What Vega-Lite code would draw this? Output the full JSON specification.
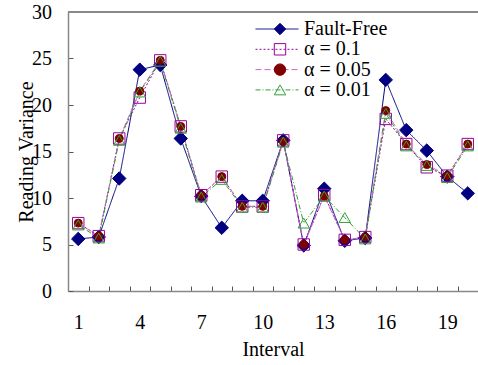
{
  "$schema": "https://vega.github.io/schema/vega-lite/v6.json",
  "width": 410,
  "height": 279,
  "autosize": {"type": "none"},
  "padding": {"left": 68, "top": 12, "right": 0, "bottom": 74},
  "background": "white",
  "config": {
    "view": {"stroke": null},
    "font": "Liberation Serif",
    "axis": {
      "labelFont": "Liberation Serif",
      "labelFontSize": 20,
      "labelColor": "black",
      "titleFont": "Liberation Serif",
      "titleFontSize": 20,
      "titleFontWeight": "normal",
      "titleColor": "black",
      "domainColor": "#888888",
      "domainWidth": 1.5,
      "tickColor": "#555555",
      "tickWidth": 1,
      "tickSize": -5,
      "grid": false
    },
    "legend": {
      "labelFont": "Liberation Serif",
      "labelFontSize": 20,
      "labelColor": "black",
      "padding": 0
    }
  },
  "data": {
    "values": [
      {"interval": 1, "series": "Fault-Free", "value": 5.6},
      {"interval": 2, "series": "Fault-Free", "value": 5.8},
      {"interval": 3, "series": "Fault-Free", "value": 12.1},
      {"interval": 4, "series": "Fault-Free", "value": 23.8},
      {"interval": 5, "series": "Fault-Free", "value": 24.3},
      {"interval": 6, "series": "Fault-Free", "value": 16.4},
      {"interval": 7, "series": "Fault-Free", "value": 10.2},
      {"interval": 8, "series": "Fault-Free", "value": 6.8},
      {"interval": 9, "series": "Fault-Free", "value": 9.7},
      {"interval": 10, "series": "Fault-Free", "value": 9.7},
      {"interval": 11, "series": "Fault-Free", "value": 16.2},
      {"interval": 12, "series": "Fault-Free", "value": 4.9},
      {"interval": 13, "series": "Fault-Free", "value": 11.0},
      {"interval": 14, "series": "Fault-Free", "value": 5.4},
      {"interval": 15, "series": "Fault-Free", "value": 5.7},
      {"interval": 16, "series": "Fault-Free", "value": 22.7},
      {"interval": 17, "series": "Fault-Free", "value": 17.3},
      {"interval": 18, "series": "Fault-Free", "value": 15.1},
      {"interval": 19, "series": "Fault-Free", "value": 12.3},
      {"interval": 20, "series": "Fault-Free", "value": 10.5},
      {"interval": 1, "series": "α = 0.1", "value": 7.3},
      {"interval": 2, "series": "α = 0.1", "value": 5.9},
      {"interval": 3, "series": "α = 0.1", "value": 16.4},
      {"interval": 4, "series": "α = 0.1", "value": 20.8},
      {"interval": 5, "series": "α = 0.1", "value": 24.8},
      {"interval": 6, "series": "α = 0.1", "value": 17.7},
      {"interval": 7, "series": "α = 0.1", "value": 10.3},
      {"interval": 8, "series": "α = 0.1", "value": 12.3},
      {"interval": 9, "series": "α = 0.1", "value": 9.1},
      {"interval": 10, "series": "α = 0.1", "value": 9.1},
      {"interval": 11, "series": "α = 0.1", "value": 16.2},
      {"interval": 12, "series": "α = 0.1", "value": 5.0},
      {"interval": 13, "series": "α = 0.1", "value": 10.3},
      {"interval": 14, "series": "α = 0.1", "value": 5.5},
      {"interval": 15, "series": "α = 0.1", "value": 5.8},
      {"interval": 16, "series": "α = 0.1", "value": 18.5},
      {"interval": 17, "series": "α = 0.1", "value": 15.8},
      {"interval": 18, "series": "α = 0.1", "value": 13.3},
      {"interval": 19, "series": "α = 0.1", "value": 12.4},
      {"interval": 20, "series": "α = 0.1", "value": 15.8},
      {"interval": 1, "series": "α = 0.05", "value": 7.3},
      {"interval": 2, "series": "α = 0.05", "value": 5.9},
      {"interval": 3, "series": "α = 0.05", "value": 16.4},
      {"interval": 4, "series": "α = 0.05", "value": 21.5},
      {"interval": 5, "series": "α = 0.05", "value": 24.8},
      {"interval": 6, "series": "α = 0.05", "value": 17.7},
      {"interval": 7, "series": "α = 0.05", "value": 10.3},
      {"interval": 8, "series": "α = 0.05", "value": 12.3},
      {"interval": 9, "series": "α = 0.05", "value": 9.1},
      {"interval": 10, "series": "α = 0.05", "value": 9.1},
      {"interval": 11, "series": "α = 0.05", "value": 16.1},
      {"interval": 12, "series": "α = 0.05", "value": 5.0},
      {"interval": 13, "series": "α = 0.05", "value": 10.2},
      {"interval": 14, "series": "α = 0.05", "value": 5.5},
      {"interval": 15, "series": "α = 0.05", "value": 5.8},
      {"interval": 16, "series": "α = 0.05", "value": 19.4},
      {"interval": 17, "series": "α = 0.05", "value": 15.8},
      {"interval": 18, "series": "α = 0.05", "value": 13.6},
      {"interval": 19, "series": "α = 0.05", "value": 12.4},
      {"interval": 20, "series": "α = 0.05", "value": 15.8},
      {"interval": 1, "series": "α = 0.01", "value": 7.1},
      {"interval": 2, "series": "α = 0.01", "value": 5.7},
      {"interval": 3, "series": "α = 0.01", "value": 16.2},
      {"interval": 4, "series": "α = 0.01", "value": 21.4},
      {"interval": 5, "series": "α = 0.01", "value": 24.7},
      {"interval": 6, "series": "α = 0.01", "value": 17.5},
      {"interval": 7, "series": "α = 0.01", "value": 10.1},
      {"interval": 8, "series": "α = 0.01", "value": 12.0},
      {"interval": 9, "series": "α = 0.01", "value": 9.0},
      {"interval": 10, "series": "α = 0.01", "value": 9.0},
      {"interval": 11, "series": "α = 0.01", "value": 16.0},
      {"interval": 12, "series": "α = 0.01", "value": 7.3},
      {"interval": 13, "series": "α = 0.01", "value": 10.2},
      {"interval": 14, "series": "α = 0.01", "value": 7.9},
      {"interval": 15, "series": "α = 0.01", "value": 5.6},
      {"interval": 16, "series": "α = 0.01", "value": 19.1},
      {"interval": 17, "series": "α = 0.01", "value": 15.6},
      {"interval": 18, "series": "α = 0.01", "value": 13.5},
      {"interval": 19, "series": "α = 0.01", "value": 12.2},
      {"interval": 20, "series": "α = 0.01", "value": 15.6}
    ]
  },
  "encoding": {
    "x": {
      "field": "interval",
      "type": "ordinal",
      "scale": {"type": "band", "paddingInner": 0, "paddingOuter": 0},
      "axis": {
        "title": "Interval",
        "labelAngle": 0,
        "tickBand": "extent",
        "labelPadding": 26,
        "titlePadding": 7,
        "labelExpr": "(datum.value - 1) % 3 === 0 ? datum.label : ''"
      }
    },
    "y": {
      "field": "value",
      "type": "quantitative",
      "scale": {"domain": [0, 30], "nice": false},
      "axis": {
        "title": "Reading Variance",
        "values": [0, 5, 10, 15, 20, 25, 30],
        "labelPadding": 21.5,
        "titlePadding": -5
      }
    }
  },
  "layer": [
    {
      "mark": {"type": "rule", "color": "#888888", "strokeWidth": 1.5},
      "encoding": {"y": {"datum": 30}, "x": {"value": 0}, "x2": {"value": 410}}
    },
    {
      "mark": {"type": "line", "strokeWidth": 1},
      "encoding": {
        "color": {
          "field": "series",
          "type": "nominal",
          "scale": {
            "domain": ["Fault-Free", "α = 0.1", "α = 0.05", "α = 0.01"],
            "range": ["#000080", "#990099", "#cc66cc", "#33a033"]
          },
          "legend": {
            "title": null,
            "orient": "none",
            "legendX": 187,
            "legendY": 7,
            "symbolType": "stroke",
            "symbolSize": 1849,
            "symbolStrokeWidth": 1,
            "clipHeight": 20,
            "rowPadding": 0.3,
            "labelOffset": 5
          }
        },
        "strokeDash": {
          "field": "series",
          "type": "nominal",
          "scale": {
            "domain": ["Fault-Free", "α = 0.1", "α = 0.05", "α = 0.01"],
            "range": [[1, 0], [2, 2], [6, 3], [5, 2, 1, 2]]
          }
        }
      }
    },
    {
      "mark": {"type": "point", "opacity": 1, "strokeWidth": 1},
      "encoding": {
        "shape": {
          "field": "series",
          "type": "nominal",
          "scale": {
            "domain": ["Fault-Free", "α = 0.1", "α = 0.05", "α = 0.01", "Fault-Free"],
            "range": ["diamond", "square", "circle", "triangle-up"]
          },
          "legend": {
            "title": null,
            "orient": "none",
            "legendX": 202,
            "legendY": 7,
            "symbolSize": 130,
            "symbolStrokeWidth": 1,
            "symbolOpacity": 1,
            "clipHeight": 20,
            "rowPadding": 0.3,
            "labelExpr": "''",
            "encode": {
              "symbols": {
                "size": {
                  "condition": [
                    {"test": "datum.value === 'Fault-Free'", "value": 180},
                    {"test": "datum.value === 'α = 0.05'", "value": 64}
                  ],
                  "value": 130
                }
              }
            }
          }
        },
        "fill": {
          "field": "series",
          "type": "nominal",
          "scale": {
            "domain": ["Fault-Free", "α = 0.1", "α = 0.05", "α = 0.01", "Fault-Free"],
            "range": ["#000080", "transparent", "#800000", "transparent"]
          }
        },
        "stroke": {
          "field": "series",
          "type": "nominal",
          "scale": {
            "domain": ["Fault-Free", "α = 0.1", "α = 0.05", "α = 0.01", "Fault-Free"],
            "range": ["#000080", "#990099", "#800000", "#33a033"]
          }
        },
        "size": {
          "condition": [
            {"test": "datum.series === 'Fault-Free'", "value": 180},
            {"test": "datum.series === 'α = 0.05'", "value": 64}
          ],
          "value": 130
        }
      }
    }
  ]
}
